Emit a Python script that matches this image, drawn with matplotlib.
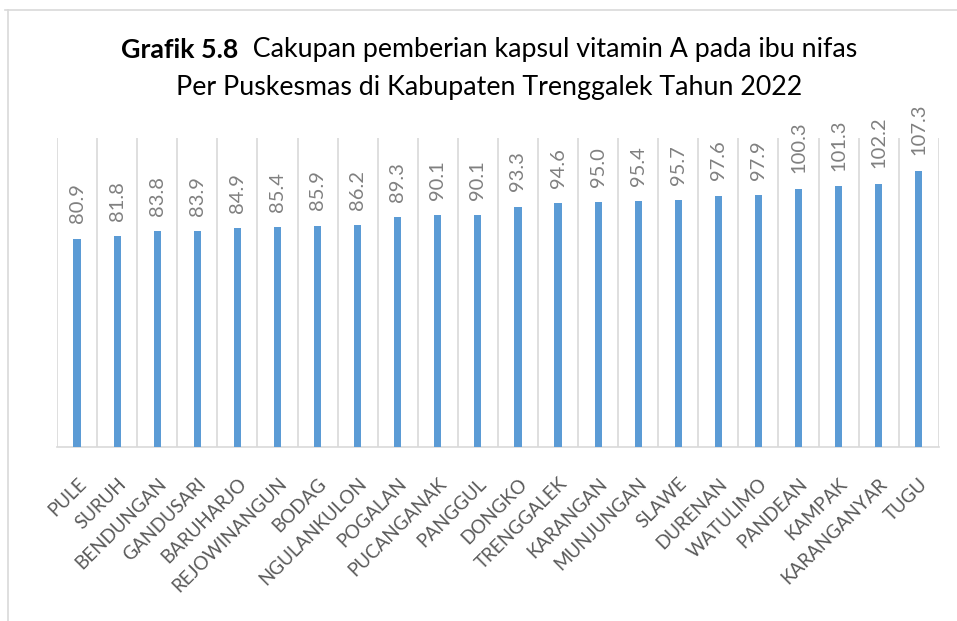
import numpy as np
import matplotlib
matplotlib.use('Agg')
import matplotlib.pyplot as plt
from matplotlib.lines import Line2D

# data puskesmas dan cakupan vitamin A ibu nifas
puskesmas = ['PULE', 'SURUH', 'BENDUNGAN', 'GANDUSARI', 'BARUHARJO', 'REJOWINANGUN',
             'BODAG', 'NGULANKULON', 'POGALAN', 'PUCANGANAK', 'PANGGUL', 'DONGKO',
             'TRENGGALEK', 'KARANGAN', 'MUNJUNGAN', 'SLAWE', 'DURENAN', 'WATULIMO',
             'PANDEAN', 'KAMPAK', 'KARANGANYAR', 'TUGU']
cakupan = [80.9, 81.8, 83.8, 83.9, 84.9, 85.4, 85.9, 86.2, 89.3, 90.1, 90.1,
           93.3, 94.6, 95.0, 95.4, 95.7, 97.6, 97.9, 100.3, 101.3, 102.2, 107.3]

plt.rcParams['font.family'] = ['Lato', 'DejaVu Sans']

fig = plt.figure(figsize=(9.57, 6.21), dpi=100)
ax = fig.add_axes([0.0596, 0.280, 0.9214, 0.498])

x = np.arange(len(puskesmas))
ax.bar(x, cakupan, width=0.18, color='#5B9BD5', zorder=3)

# garis pemisah antar kategori
for b in np.arange(-0.5, len(puskesmas), 1.0):
    ax.axvline(b, color='#D9D9D9', lw=1.2, zorder=1)

for xi, v in zip(x, cakupan):
    ax.annotate('%.1f' % v, (xi, v), xytext=(0, 11), textcoords='offset points',
                rotation=90, ha='center', va='bottom', fontsize=14.5, color='#808080')

ax.set_xlim(-0.5, len(puskesmas) - 0.5)
ax.set_ylim(0, 120)
ax.set_yticks([])
ax.set_xticks(x)
ax.set_xticklabels(puskesmas, rotation=45, ha='right', rotation_mode='anchor',
                   fontsize=13.5, color='#595959')
ax.tick_params(axis='x', length=0, pad=20)
for s in ['top', 'left', 'right']:
    ax.spines[s].set_visible(False)
ax.spines['bottom'].set_color('#D9D9D9')
ax.spines['bottom'].set_linewidth(1.2)

# judul: bagian tebal + bagian biasa
fs_judul = 19.3
r = fig.canvas.get_renderer()
t1 = fig.text(0, 1 - 50 / 621, 'Grafik 5.8', fontsize=fs_judul, fontweight='bold', va='center')
t2 = fig.text(0, 1 - 50 / 621, '  Cakupan pemberian kapsul vitamin A pada ibu nifas',
              fontsize=fs_judul, va='center')
w1 = t1.get_window_extent(r).width
w2 = t2.get_window_extent(r).width
x0 = (489 - (w1 + w2) / 2) / 957
t1.set_x(x0)
t2.set_x(x0 + w1 / 957)
fig.text(489 / 957, 1 - 88 / 621, 'Per Puskesmas di Kabupaten Trenggalek Tahun 2022',
         fontsize=fs_judul, ha='center', va='center')

# bingkai
fig.add_artist(Line2D([5 / 957, 1], [1 - 10 / 621, 1 - 10 / 621], color='#D9D9D9', lw=1.2))
fig.add_artist(Line2D([8 / 957, 8 / 957], [0, 1 - 10 / 621], color='#D9D9D9', lw=1.2))

plt.savefig('out.png', dpi=100)
